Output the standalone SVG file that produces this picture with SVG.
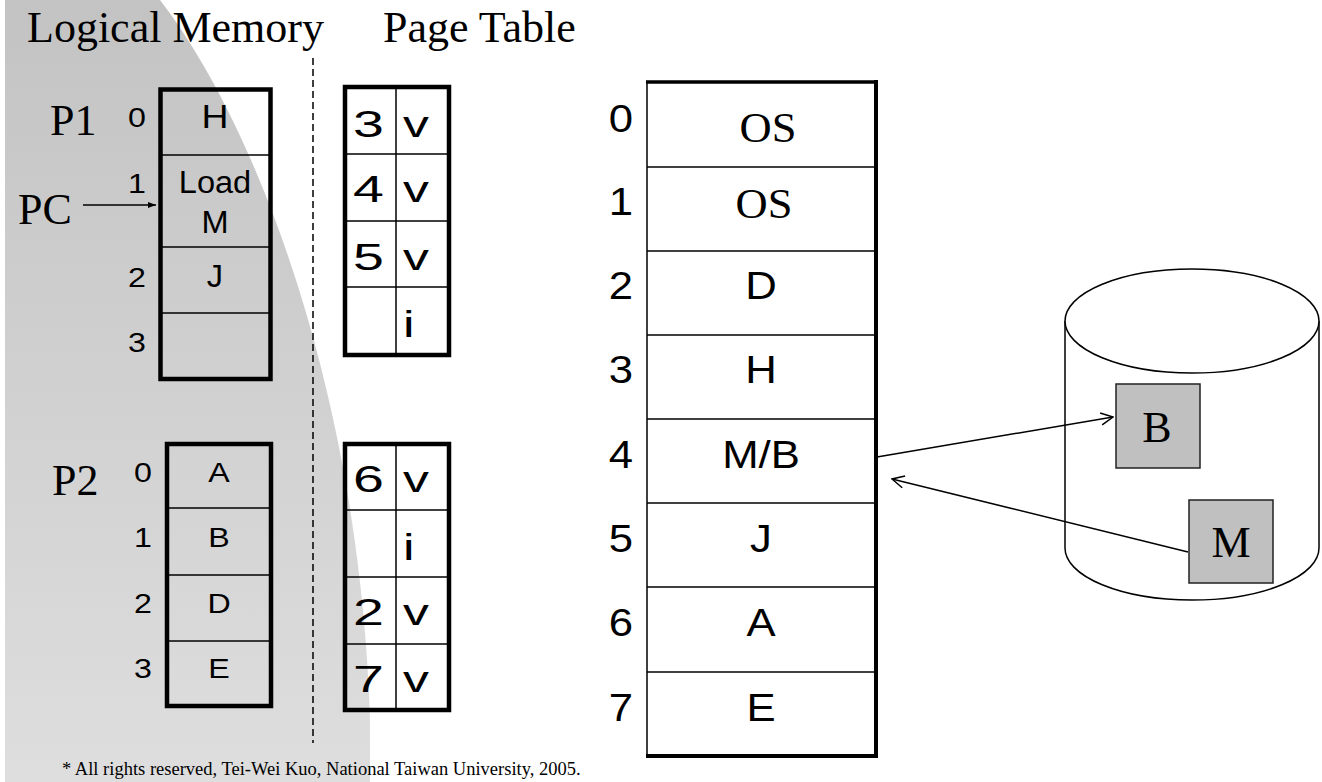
<svg xmlns="http://www.w3.org/2000/svg" width="1322" height="782" viewBox="0 0 1322 782">
  <style>
    .ser { font-family: "Liberation Serif", "Times New Roman", serif; fill: #000; }
    .sans { font-family: "Liberation Sans", Arial, sans-serif; fill: #000; }
    .title { font-size: 44px; }
    .lm { font-size: 28px; }
    .lm-big { font-size: 31px; }
    .lm-h { font-size: 34px; }
    .pt { font-size: 37px; }
    .pm { font-size: 38px; }
    .os { font-size: 42px; }
    .disk { font-size: 44px; }
    .foot { font-size: 18.5px; }
    .mid { text-anchor: middle; }
    .thick { fill: none; stroke: #000; stroke-width: 4.5; }
    .thin { fill: none; stroke: #000; stroke-width: 1.5; }
    .conn { fill: none; stroke: #000; stroke-width: 1.5; }
    .page { fill: #c0c0c0; stroke: #222; stroke-width: 1.5; }
  </style>
  <defs>
    <linearGradient id="shade" x1="0" y1="0" x2="0" y2="1">
      <stop offset="0" stop-color="#c3c3c3"/>
      <stop offset="1" stop-color="#dedede"/>
    </linearGradient>
    <marker id="open" viewBox="0 0 14 14" refX="13" refY="7" markerWidth="14" markerHeight="14" markerUnits="userSpaceOnUse" orient="auto">
      <path d="M1,1 L13,7 L1,13" fill="none" stroke="#000" stroke-width="1.5"/>
    </marker>
    <marker id="solid" viewBox="0 0 8 6" refX="8" refY="3" markerWidth="8" markerHeight="6" markerUnits="userSpaceOnUse" orient="auto">
      <path d="M0,0 L8,3 L0,6 Z" fill="#000"/>
    </marker>
  </defs>

  <!-- shaded backdrop -->
  <path d="M5,0 L160,0 C260,130 360,400 370,720 L370,782 L5,782 Z" fill="url(#shade)"/>

  <!-- headings -->
  <text class="ser title" x="27" y="42">Logical Memory</text>
  <text class="ser title" x="383" y="42">Page Table</text>

  <!-- separator -->
  <line x1="313" y1="58" x2="313" y2="743" stroke="#000" stroke-width="1.5" stroke-dasharray="7 4"/>

  <!-- process P1 logical memory -->
  <g id="p1-logical">
    <text class="ser title" x="50" y="135">P1</text>
    <rect class="thick" x="160.5" y="89.5" width="110" height="289.5"/>
    <line class="thin" x1="160" y1="155" x2="271" y2="155"/>
    <line class="thin" x1="160" y1="247" x2="271" y2="247"/>
    <line class="thin" x1="160" y1="313" x2="271" y2="313"/>
    <text class="sans lm mid" transform="translate(137,127) scale(1.15,1)">0</text>
    <text class="sans lm mid" transform="translate(137,193) scale(1.15,1)">1</text>
    <text class="sans lm mid" transform="translate(137,287) scale(1.15,1)">2</text>
    <text class="sans lm mid" transform="translate(137,352) scale(1.15,1)">3</text>
    <text class="sans lm-h mid" transform="translate(215,128) scale(1.1,1)">H</text>
    <text class="sans lm-big mid" transform="translate(215,193) scale(1.05,1)">Load</text>
    <text class="sans lm-big mid" transform="translate(215,233) scale(1.05,1)">M</text>
    <text class="sans lm-big mid" transform="translate(215,287) scale(1.05,1)">J</text>
  </g>

  <!-- program counter -->
  <g id="pc">
    <text class="ser title" x="18" y="224">PC</text>
  </g>

  <!-- process P2 logical memory -->
  <g id="p2-logical">
    <text class="ser title" x="52" y="495">P2</text>
    <rect class="thick" x="167" y="444" width="104" height="262"/>
    <line class="thin" x1="167" y1="508" x2="271" y2="508"/>
    <line class="thin" x1="167" y1="575" x2="271" y2="575"/>
    <line class="thin" x1="167" y1="641" x2="271" y2="641"/>
    <text class="sans lm mid" transform="translate(143,482) scale(1.15,1)">0</text>
    <text class="sans lm mid" transform="translate(143,547) scale(1.15,1)">1</text>
    <text class="sans lm mid" transform="translate(143,613) scale(1.15,1)">2</text>
    <text class="sans lm mid" transform="translate(143,678) scale(1.15,1)">3</text>
    <text class="sans lm mid" transform="translate(219,482) scale(1.15,1)">A</text>
    <text class="sans lm mid" transform="translate(219,547) scale(1.15,1)">B</text>
    <text class="sans lm mid" transform="translate(219,613) scale(1.15,1)">D</text>
    <text class="sans lm mid" transform="translate(219,678) scale(1.15,1)">E</text>
  </g>

  <!-- page table of P1 -->
  <g id="p1-table">
    <rect class="thick" x="345" y="87" width="104" height="268"/>
    <line class="thin" x1="396" y1="87" x2="396" y2="355"/>
    <line class="thin" x1="345" y1="154" x2="449" y2="154"/>
    <line class="thin" x1="345" y1="221" x2="449" y2="221"/>
    <line class="thin" x1="345" y1="287" x2="449" y2="287"/>
    <text class="sans pt" transform="translate(353,137) scale(1.5,1)">3</text>
    <text class="sans pt" transform="translate(403,137) scale(1.4,1)">v</text>
    <text class="sans pt" transform="translate(353,202) scale(1.5,1)">4</text>
    <text class="sans pt" transform="translate(403,202) scale(1.4,1)">v</text>
    <text class="sans pt" transform="translate(353,270) scale(1.5,1)">5</text>
    <text class="sans pt" transform="translate(403,270) scale(1.4,1)">v</text>
    <text class="sans pt" transform="translate(403,337) scale(1.4,1)">i</text>
  </g>

  <!-- page table of P2 -->
  <g id="p2-table">
    <rect class="thick" x="345" y="444" width="104" height="266"/>
    <line class="thin" x1="396" y1="444" x2="396" y2="710"/>
    <line class="thin" x1="345" y1="510" x2="449" y2="510"/>
    <line class="thin" x1="345" y1="577" x2="449" y2="577"/>
    <line class="thin" x1="345" y1="644" x2="449" y2="644"/>
    <text class="sans pt" transform="translate(353,492) scale(1.5,1)">6</text>
    <text class="sans pt" transform="translate(403,492) scale(1.4,1)">v</text>
    <text class="sans pt" transform="translate(403,560) scale(1.4,1)">i</text>
    <text class="sans pt" transform="translate(353,625) scale(1.5,1)">2</text>
    <text class="sans pt" transform="translate(403,625) scale(1.4,1)">v</text>
    <text class="sans pt" transform="translate(353,692) scale(1.5,1)">7</text>
    <text class="sans pt" transform="translate(403,692) scale(1.4,1)">v</text>
  </g>

  <!-- physical memory frames -->
  <g id="physical-memory">
    <rect x="647" y="82" width="229" height="674" fill="#fff" stroke="#000" stroke-width="1.5"/>
    <line x1="646" y1="82" x2="878" y2="82" stroke="#000" stroke-width="3.5"/>
    <line x1="876" y1="80" x2="876" y2="758" stroke="#000" stroke-width="4"/>
    <line x1="646" y1="756" x2="878" y2="756" stroke="#000" stroke-width="4"/>
    <line class="thin" x1="647" y1="167" x2="876" y2="167"/>
    <line class="thin" x1="647" y1="251" x2="876" y2="251"/>
    <line class="thin" x1="647" y1="335" x2="876" y2="335"/>
    <line class="thin" x1="647" y1="419" x2="876" y2="419"/>
    <line class="thin" x1="647" y1="503" x2="876" y2="503"/>
    <line class="thin" x1="647" y1="587" x2="876" y2="587"/>
    <line class="thin" x1="647" y1="672" x2="876" y2="672"/>
    <text class="sans pm mid" transform="translate(621,132) scale(1.15,1)">0</text>
    <text class="sans pm mid" transform="translate(621,215) scale(1.15,1)">1</text>
    <text class="sans pm mid" transform="translate(621,299) scale(1.15,1)">2</text>
    <text class="sans pm mid" transform="translate(621,383) scale(1.15,1)">3</text>
    <text class="sans pm mid" transform="translate(621,468) scale(1.15,1)">4</text>
    <text class="sans pm mid" transform="translate(621,552) scale(1.15,1)">5</text>
    <text class="sans pm mid" transform="translate(621,636) scale(1.15,1)">6</text>
    <text class="sans pm mid" transform="translate(621,721) scale(1.15,1)">7</text>
    <text class="ser os mid" transform="translate(768,142) scale(1.06,1)">OS</text>
    <text class="ser os mid" transform="translate(764,218) scale(1.06,1)">OS</text>
    <text class="sans pm mid" transform="translate(761,299) scale(1.15,1)">D</text>
    <text class="sans pm mid" transform="translate(761,383) scale(1.15,1)">H</text>
    <text class="sans pm mid" transform="translate(761,468) scale(1.15,1)">M/B</text>
    <text class="sans pm mid" transform="translate(761,552) scale(1.15,1)">J</text>
    <text class="sans pm mid" transform="translate(761,636) scale(1.15,1)">A</text>
    <text class="sans pm mid" transform="translate(761,721) scale(1.15,1)">E</text>
  </g>

  <!-- backing store -->
  <g id="disk">
    <path d="M1065,321 L1065,548 A127,52 0 0 0 1319,548 L1319,321" fill="#fff" stroke="#000" stroke-width="1.5"/>
    <ellipse cx="1192" cy="321" rx="127" ry="52" fill="#fff" stroke="#000" stroke-width="1.5"/>
  </g>
  <g id="page-b">
    <rect class="page" x="1116" y="384" width="84" height="84"/>
    <text class="ser disk mid" x="1157" y="442">B</text>
  </g>
  <g id="page-m">
    <rect class="page" x="1189" y="500" width="84" height="83"/>
    <text class="ser disk mid" x="1231" y="557">M</text>
  </g>

  <!-- connectors -->
  <g id="connectors">
    <line class="conn" x1="83" y1="205" x2="156" y2="205" marker-end="url(#solid)"/>
    <line class="conn" x1="877" y1="457" x2="1113" y2="417" marker-end="url(#open)"/>
    <line class="conn" x1="1188" y1="552" x2="892" y2="479" marker-end="url(#open)"/>
  </g>

  <!-- footer -->
  <text class="ser foot" x="62" y="775">* All rights reserved, Tei-Wei Kuo, National Taiwan University, 2005.</text>
</svg>
